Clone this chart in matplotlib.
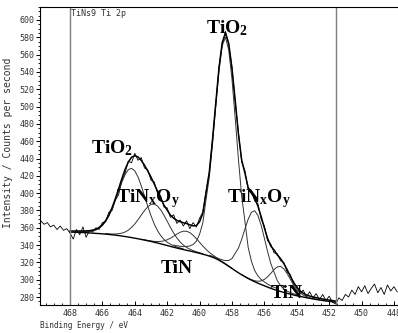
import numpy as np
import matplotlib
matplotlib.use("Agg")
import matplotlib.pyplot as plt
from matplotlib.ticker import MultipleLocator

# ---------------- data ----------------
# common fit grid: 468.0 -> 451.6 eV, step 0.2
fit_energy = [468.0 - 0.2 * i for i in range(83)]

background = [355.0, 354.9, 354.8, 354.7, 354.5, 354.3, 354.0, 353.8, 353.5, 353.3,
              353.0, 352.7, 352.3, 351.9, 351.5, 351.0, 350.5, 349.9, 349.3, 348.7,
              348.0, 347.3, 346.5, 345.8, 345.0, 344.2, 343.3, 342.4, 341.5, 340.5,
              339.5, 338.5, 337.5, 336.6, 335.7, 334.8, 334.0, 333.2, 332.3, 331.4,
              330.5, 329.5, 328.5, 327.3, 326.0, 324.4, 322.5, 320.3, 318.0, 315.5,
              313.0, 310.5, 308.0, 305.7, 303.5, 301.4, 299.5, 297.7, 296.0, 294.5,
              293.0, 291.5, 290.0, 288.7, 287.5, 286.4, 285.3, 284.3, 283.3, 282.4,
              281.5, 280.7, 280.0, 279.2, 278.5, 277.8, 277.2, 276.6, 276.0, 275.5,
              275.0, 274.5, 274.0]

envelope = [356.2, 356.3, 356.2, 356.3, 356.3, 356.4, 356.6, 357.3, 358.3, 360.4,
            363.6, 368.2, 374.8, 383.3, 393.6, 404.8, 416.5, 427.3, 435.8, 441.4,
            443.2, 441.9, 437.8, 432.3, 425.7, 418.6, 410.6, 402.4, 394.2, 386.3,
            380.3, 374.7, 371.0, 368.5, 367.0, 365.8, 364.9, 363.4, 362.2, 362.4,
            366.9, 376.5, 400.6, 424.2, 461.5, 504.0, 544.7, 574.0, 585.0, 573.0,
            544.1, 507.2, 468.1, 438.3, 423.1, 406.5, 400.6, 394.1, 385.1, 373.1,
            359.9, 347.7, 338.8, 334.4, 328.6, 324.4, 318.7, 311.8, 304.2, 297.2,
            291.4, 287.2, 284.4, 282.4, 281.1, 280.0, 279.3, 278.4, 277.7, 277.0,
            276.5, 275.9, 275.3]

# components (absolute intensity, drawn over their own energy ranges)
tio2_32_energy = [461.6 - 0.2 * i for i in range(33)]
tio2_32 = [339.9, 339.2, 338.6, 338.2, 338.5, 339.0, 340.7, 344.4, 352.5, 365.5,
           392.5, 418.3, 457.0, 500.4, 541.5, 570.3, 580.0, 565.5, 532.0, 486.5,
           439.0, 396.7, 367.5, 337.4, 321.5, 310.7, 304.4, 300.3, 297.5, 294.9,
           292.9, 291.3, 289.9]

tio2_12_energy = [467.4 - 0.2 * i for i in range(33)]
tio2_12 = [355.5, 355.5, 355.5, 355.7, 356.4, 357.3, 359.4, 362.5, 367.1, 373.5,
           381.7, 391.5, 402.0, 412.5, 421.3, 427.1, 428.7, 425.8, 418.7, 408.5,
           396.8, 385.0, 374.0, 364.5, 356.8, 351.0, 346.6, 343.3, 341.1, 339.2,
           337.8, 336.7, 335.6]

tinxoy_12_energy = [465.8 - 0.2 * i for i in range(31)]
tinxoy_12 = [353.2, 353.0, 352.8, 352.9, 353.1, 353.8, 355.1, 357.2, 360.4, 364.4,
             369.3, 374.6, 379.9, 384.2, 387.0, 387.3, 385.2, 380.7, 374.6, 367.6,
             360.5, 353.9, 348.3, 343.6, 340.0, 337.3, 335.3, 333.7, 332.3, 331.2,
             330.0]

tin_12_energy = [463.6 - 0.2 * i for i in range(29)]
tin_12 = [346.7, 346.1, 345.4, 344.8, 344.3, 344.1, 344.3, 344.8, 346.1, 347.9,
          350.2, 352.7, 354.8, 356.0, 356.0, 354.4, 351.4, 347.5, 343.2, 338.9,
          335.1, 331.6, 328.8, 326.1, 323.5, 320.9, 318.4, 315.8, 313.2]

tinxoy_32_energy = [459.4 - 0.2 * i for i in range(29)]
tinxoy_32 = [328.2, 327.1, 325.8, 324.3, 322.9, 322.1, 322.3, 324.4, 330.6, 336.5,
             346.7, 358.5, 369.9, 377.8, 379.7, 374.3, 363.0, 348.0, 332.5, 318.5,
             308.8, 298.9, 293.2, 289.4, 286.9, 285.1, 283.8, 282.6, 281.6]

tin_32_energy = [457.4 - 0.2 * i for i in range(25)]
tin_32 = [305.9, 303.8, 301.8, 300.1, 298.9, 298.2, 298.6, 300.3, 303.3, 307.4,
          311.7, 314.8, 315.4, 312.6, 307.3, 300.7, 294.2, 288.8, 284.8, 282.2,
          280.4, 279.1, 278.2, 277.5, 276.8]

# measured spectrum: 469.8 -> 447.8 eV, step 0.2
raw_energy = [469.8 - 0.2 * j for j in range(111)]
raw_counts = [368, 364, 366, 361, 363, 358, 362, 357, 359, 354,
              347, 358, 352, 361, 349, 357, 355, 360, 358, 366,
              367, 378, 380, 392, 398, 414, 423, 437, 435, 446,
              438, 441, 429, 427, 415, 413, 400, 397, 384, 383,
              372, 375, 365, 369, 362, 368, 359, 366, 361, 371,
              378, 402, 423, 463, 502, 546, 572, 587, 571, 546,
              505, 470, 436, 426, 404, 403, 391, 388, 370, 362,
              345, 341, 331, 330, 322, 320, 309, 306, 294, 293,
              284, 288, 280, 286, 279, 284, 277, 283, 276, 281,
              274, 272, 279, 276, 283, 280, 288, 283, 292, 286,
              293, 284, 290, 295, 285, 291, 283, 294, 287, 292,
              286]

region_limits = [468.0, 451.6]

labels = ["TiO$_\\mathregular{2}$", "TiO$_\\mathregular{2}$",
          "TiN$_\\mathregular{x}$O$_\\mathregular{y}$",
          "TiN$_\\mathregular{x}$O$_\\mathregular{y}$", "TiN", "TiN"]
label_pos = [(458.3, 590.0), (465.4, 452.0), (463.2, 394.0),
             (456.3, 394.0), (461.4, 313.5), (454.6, 284.6)]

# ---------------- figure ----------------
plt.rcParams['mathtext.fontset'] = 'custom'
plt.rcParams['mathtext.rm'] = 'Liberation Serif:bold'
plt.rcParams['mathtext.it'] = 'Liberation Serif:bold'
plt.rcParams['mathtext.bf'] = 'Liberation Serif:bold'

fig = plt.figure(figsize=(3.98, 3.33), dpi=100)
ax = fig.add_axes([40 / 398, 28 / 333, 358 / 398, 298 / 333])
ax.set_xlim(469.85, 447.75)
ax.set_ylim(270.8, 615)

mono = 'DejaVu Sans Mono'

ax.plot(raw_energy, raw_counts, color='black', lw=0.6)
comp_kw = dict(color='#333333', lw=0.7)
for e, v in [(tio2_32_energy, tio2_32), (tio2_12_energy, tio2_12),
             (tinxoy_12_energy, tinxoy_12), (tin_12_energy, tin_12),
             (tinxoy_32_energy, tinxoy_32), (tin_32_energy, tin_32)]:
    ax.plot(e, v, **comp_kw)
ax.plot(fit_energy, background, color='black', lw=1.0)
ax.plot(fit_energy, envelope, color='black', lw=1.1)

for xv in region_limits:
    ax.axvline(xv, color='#7f7f7f', lw=1.0)

for txt, (xe, yi) in zip(labels, label_pos):
    ax.text(xe, yi, txt, ha='center', va='center', fontsize=14,
            family='Liberation Serif', weight='bold')

ax.spines['right'].set_visible(False)
for s in ['left', 'bottom', 'top']:
    ax.spines[s].set_linewidth(0.8)

ax.xaxis.set_major_locator(MultipleLocator(2))
ax.xaxis.set_minor_locator(MultipleLocator(0.5))
ax.yaxis.set_major_locator(MultipleLocator(20))
ax.yaxis.set_minor_locator(MultipleLocator(5))
ax.tick_params(axis='x', which='major', direction='in', length=3, width=0.7,
               pad=3, labelsize=6)
ax.tick_params(axis='x', which='minor', direction='in', length=1.5, width=0.6)
ax.tick_params(axis='y', which='major', direction='out', length=3, width=0.7,
               pad=1, labelsize=6)
ax.tick_params(axis='y', which='minor', direction='out', length=1.5, width=0.6)
for lab in ax.get_xticklabels() + ax.get_yticklabels():
    lab.set_family(mono)
    lab.set_color('#333333')

fig.text(40 / 398, 1 - 325 / 333, "Binding Energy / eV", family=mono,
         fontsize=5.6, ha='left', va='center', color='#333333')
fig.text(8 / 398, 1 - 143 / 333, "Intensity / Counts per second", family=mono,
         fontsize=7, rotation=90, ha='center', va='center', color='#333333')
fig.text(71 / 398, 1 - 13 / 333, "TiNs9 Ti 2p", family=mono,
         fontsize=6, ha='left', va='center', color='#333333')

fig.savefig("out.png", dpi=100)
